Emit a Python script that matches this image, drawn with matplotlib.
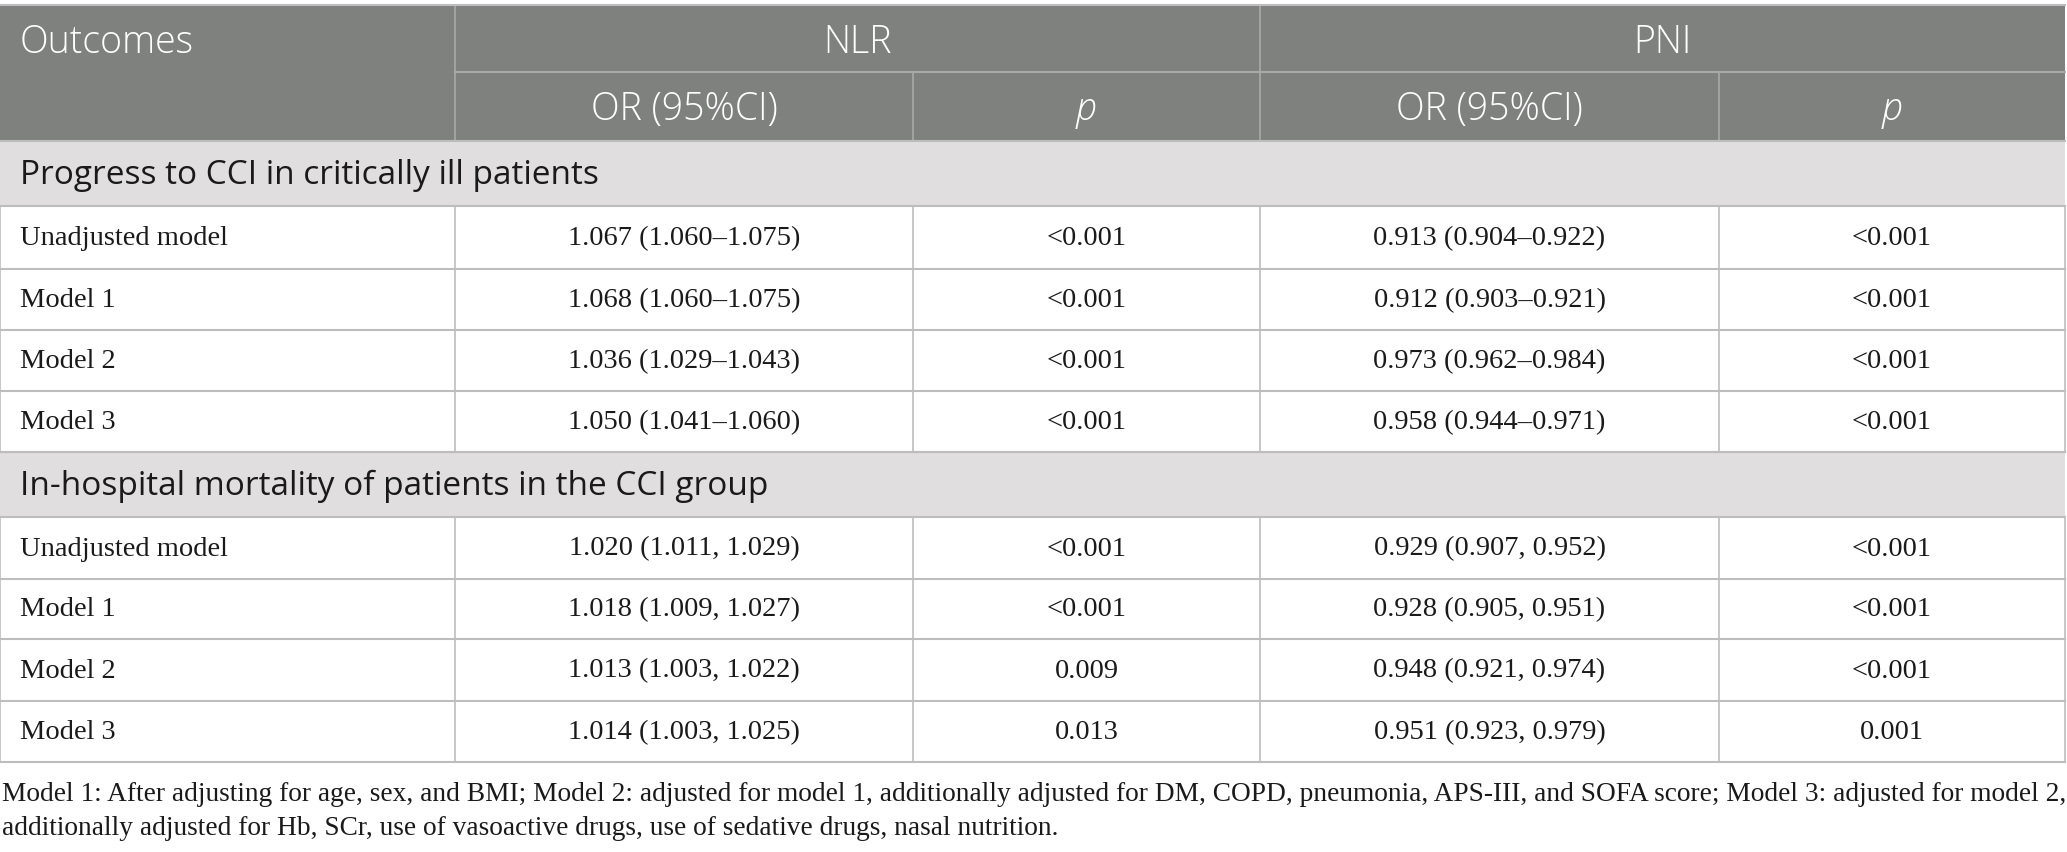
import matplotlib
matplotlib.use("Agg")
import matplotlib.pyplot as plt
from matplotlib.patches import Rectangle

# table content
group_labels = ["NLR", "PNI"]
sub_labels = ["OR (95%CI)", "p", "OR (95%CI)", "p"]

section_1 = "Progress to CCI in critically ill patients"
section_2 = "In-hospital mortality of patients in the CCI group"

models = ["Unadjusted model", "Model 1", "Model 2", "Model 3"]

nlr_or_1 = ["1.067 (1.060\u20131.075)", "1.068 (1.060\u20131.075)",
            "1.036 (1.029\u20131.043)", "1.050 (1.041\u20131.060)"]
nlr_p_1 = ["<0.001", "<0.001", "<0.001", "<0.001"]
pni_or_1 = ["0.913 (0.904\u20130.922)", "0.912 (0.903\u20130.921)",
            "0.973 (0.962\u20130.984)", "0.958 (0.944\u20130.971)"]
pni_p_1 = ["<0.001", "<0.001", "<0.001", "<0.001"]

nlr_or_2 = ["1.020 (1.011, 1.029)", "1.018 (1.009, 1.027)",
            "1.013 (1.003, 1.022)", "1.014 (1.003, 1.025)"]
nlr_p_2 = ["<0.001", "<0.001", "0.009", "0.013"]
pni_or_2 = ["0.929 (0.907, 0.952)", "0.928 (0.905, 0.951)",
            "0.948 (0.921, 0.974)", "0.951 (0.923, 0.979)"]
pni_p_2 = ["<0.001", "<0.001", "<0.001", "0.001"]

footnote = ["Model 1: After adjusting for age, sex, and BMI; Model 2: adjusted for model 1, "
            "additionally adjusted for DM, COPD, pneumonia, APS-III, and SOFA score; Model 3: adjusted for model 2,",
            "additionally adjusted for Hb, SCr, use of vasoactive drugs, use of sedative drugs, nasal nutrition."]

# layout in pixels
W, H = 2067, 852
cols = [0, 455, 913, 1260, 1719, 2065]
rows = [5, 72, 141, 206, 269, 330, 391, 452, 517, 579, 639, 701, 762]

head_bg = "#7f817f"
band_bg = "#e0dedf"
line_c = "#bdbdbd"
head_line = "#a8aaa8"
txt_c = "#1a1a1a"

sans = "Open Sans"
serif = "Liberation Serif"

fig = plt.figure(figsize=(W / 100, H / 100), dpi=100)
ax = fig.add_axes([0, 0, 1, 1])
ax.set_xlim(0, W)
ax.set_ylim(H, 0)
ax.axis("off")

x0, x1 = cols[0], cols[-1]

# header
ax.add_patch(Rectangle((x0, rows[0]), x1 - x0, rows[2] - rows[0], color=head_bg, lw=0))
ax.plot([cols[1], x1], [rows[1], rows[1]], color=head_line, lw=1.5)
for c in [cols[1], cols[3]]:
    ax.plot([c, c], [rows[0], rows[2]], color=head_line, lw=1.2)
for c in [cols[2], cols[4]]:
    ax.plot([c, c], [rows[1], rows[2]], color=head_line, lw=1.2)

hsize = 27
hy1 = (rows[0] + rows[1]) / 2 + 4
hy2 = (rows[1] + rows[2]) / 2 + 3
ax.text(20, hy1, "Outcomes", color="white", fontsize=hsize,
        family=sans, fontweight="light", va="center", ha="left")
ax.text((cols[1] + cols[3]) / 2, hy1, group_labels[0], color="white",
        fontsize=hsize, family=sans, fontweight="light", va="center", ha="center")
ax.text((cols[3] + cols[5]) / 2, hy1, group_labels[1], color="white",
        fontsize=hsize, family=sans, fontweight="light", va="center", ha="center")
for i, lab in enumerate(sub_labels):
    ax.text((cols[i + 1] + cols[i + 2]) / 2, hy2, lab, color="white",
            fontsize=hsize, family=sans, fontweight="light", va="center", ha="center",
            style="italic" if lab == "p" else "normal")

# section bands
def band(top, bot, label):
    ax.add_patch(Rectangle((x0, top), x1 - x0, bot - top, color=band_bg, lw=0))
    ax.text(20, (top + bot) / 2 + 2, label, color=txt_c, fontsize=24,
            family=sans, va="center", ha="left")

band(rows[2], rows[3], section_1)
band(rows[7], rows[8], section_2)

# data rows
bsize = 20.5

def block(start, or_a, p_a, or_b, p_b):
    for k in range(len(models)):
        top, bot = rows[start + k], rows[start + k + 1]
        yc = (top + bot) / 2 + 1
        vals = [or_a[k], p_a[k], or_b[k], p_b[k]]
        ax.text(20, yc, models[k], fontsize=bsize, family=serif, color=txt_c,
                va="center", ha="left")
        for i, v in enumerate(vals):
            ax.text((cols[i + 1] + cols[i + 2]) / 2, yc, v, fontsize=bsize, family=serif,
                    color=txt_c, va="center", ha="center")
        for c in cols:
            ax.plot([c, c], [top, bot], color=line_c, lw=1.2)
        ax.plot([x0, x1], [bot, bot], color=line_c, lw=1.5)

block(3, nlr_or_1, nlr_p_1, pni_or_1, pni_p_1)
block(8, nlr_or_2, nlr_p_2, pni_or_2, pni_p_2)

for r in [rows[2], rows[3], rows[7], rows[8]]:
    ax.plot([x0, x1], [r, r], color=line_c, lw=1.5)
ax.plot([x0, x1], [rows[0], rows[0]], color=line_c, lw=1.5)

# footnote
for j, line in enumerate(footnote):
    ax.text(2, 801 + j * 34, line, fontsize=19.7, family=serif, color=txt_c,
            va="baseline", ha="left")

fig.savefig("out.png", dpi=100)
